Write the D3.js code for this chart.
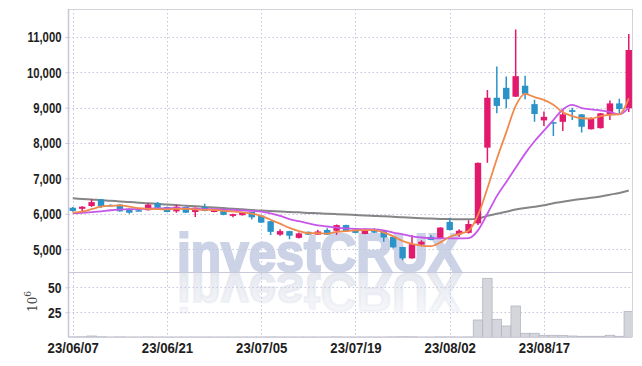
<!DOCTYPE html>
<html>
<head>
<meta charset="utf-8">
<script src="https://cdnjs.cloudflare.com/ajax/libs/d3/7.8.5/d3.min.js"></script>
<style>
  body { margin: 0; background: #fff; }
  svg { display: block; }
</style>
</head>
<body>
<div id="chart"></div>
<script>
// trading days shown on the chart
const dates = [
  "2023-06-07","2023-06-08","2023-06-09","2023-06-12","2023-06-13","2023-06-14","2023-06-15","2023-06-16","2023-06-19","2023-06-20",
  "2023-06-21","2023-06-22","2023-06-23","2023-06-26","2023-06-27","2023-06-28","2023-06-29","2023-06-30","2023-07-03","2023-07-04",
  "2023-07-05","2023-07-06","2023-07-07","2023-07-10","2023-07-11","2023-07-12","2023-07-13","2023-07-14","2023-07-17","2023-07-18",
  "2023-07-19","2023-07-20","2023-07-21","2023-07-24","2023-07-25","2023-07-26","2023-07-27","2023-07-28","2023-07-31","2023-08-01",
  "2023-08-02","2023-08-03","2023-08-04","2023-08-07","2023-08-08","2023-08-09","2023-08-10","2023-08-11","2023-08-14","2023-08-16",
  "2023-08-17","2023-08-18","2023-08-21","2023-08-22","2023-08-23","2023-08-24","2023-08-25","2023-08-28","2023-08-29","2023-08-30"
];
const opens = [
  6170,6140,6220,6410,6250,6260,6140,6100,6100,6300,
  6190,6070,6190,6050,6190,6050,6120,5940,5960,6050,
  5950,5790,5410,5510,5320,5490,5410,5540,5520,5680,
  5540,5430,5510,5520,5350,5060,4740,5130,5350,5300,
  5770,5420,5460,5730,7870,9280,9560,9310,9620,9100,
  8640,8590,8600,8930,8810,8390,8420,8810,9120,8980
];
const highs = [
  6190,6210,6410,6420,6270,6270,6150,6130,6300,6330,
  6200,6250,6200,6180,6280,6110,6130,6000,6040,6060,
  5960,5800,5560,5520,5470,5500,5550,5590,5700,5690,
  5560,5590,5590,5530,5360,5070,5400,5250,5400,5620,
  5870,5560,5820,7450,9500,10160,9880,11210,9900,9220,
  8890,8600,8940,9000,8820,8730,8850,9200,9250,11080
];
const lows = [
  6060,6030,6190,6160,6220,6060,6000,6080,6090,6160,
  6040,6030,6020,5910,6070,6040,5960,5900,5950,5840,
  5740,5400,5380,5280,5300,5400,5400,5400,5410,5500,
  5450,5420,5460,5210,5020,4690,4730,5080,5250,5290,
  5530,5350,5440,5680,7440,8840,8980,9300,9240,8600,
  8480,8200,8340,8650,8300,8380,8410,8650,8840,8880
];
const closes = [
  6080,6200,6330,6220,6230,6070,6030,6090,6260,6170,
  6050,6200,6030,6170,6080,6100,5970,5990,6030,5900,
  5750,5490,5510,5380,5445,5410,5500,5410,5680,5510,
  5460,5540,5470,5330,5050,4740,5140,5210,5260,5610,
  5540,5520,5710,7440,9280,9050,9240,9890,9390,8820,
  8740,8550,8810,8880,8460,8680,8840,9120,8960,10630
];
// volume in millions of shares
const volumes = [
  0.4,0.5,1.3,0.5,0.3,0.4,0.3,0.3,0.4,0.3,
  0.3,0.3,0.3,0.3,0.3,0.3,0.3,0.3,0.3,0.3,
  0.3,0.4,0.3,0.3,0.3,0.3,0.3,0.3,0.4,0.3,
  0.3,0.3,0.3,0.3,0.4,0.5,0.5,0.3,0.3,0.4,
  0.4,0.3,0.4,17.3,59,18,11.3,31.3,4,4,
  2,2,1.7,1.3,1,1,1,2,1,25.7
];
// moving averages
const ma5 = [
  6030,6060,6130,6200,6225,6235,6200,6160,6140,6130,
  6125,6140,6140,6125,6110,6110,6080,6065,6040,6005,
  5940,5830,5720,5600,5510,5450,5450,5440,5490,5510,
  5530,5540,5540,5470,5370,5230,5150,5100,5085,5190,
  5350,5430,5520,5960,6720,7550,8300,9050,9390,9300,
  9220,9080,8870,8760,8700,8690,8760,8800,8815,9260
];
const ma10 = [
  6010,6025,6045,6070,6100,6120,6130,6135,6145,6150,
  6155,6160,6150,6140,6130,6128,6120,6110,6095,6080,
  6060,6010,5940,5850,5790,5730,5670,5640,5610,5585,
  5570,5565,5560,5530,5470,5420,5360,5330,5310,5305,
  5305,5305,5310,5530,6000,6500,6900,7300,7700,8050,
  8350,8650,8950,9080,8990,8950,8920,8880,8810,9000
];
const maLong = [
  6440,6420,6405,6385,6370,6350,6335,6315,6300,6280,
  6265,6245,6230,6210,6195,6175,6160,6140,6125,6105,
  6090,6075,6065,6050,6040,6025,6015,6000,5990,5980,
  5965,5950,5940,5930,5915,5900,5890,5875,5865,5855,
  5850,5845,5845,5870,5940,6000,6060,6120,6165,6200,
  6240,6300,6340,6380,6420,6450,6490,6540,6590,6660
];
const priceTicks = [5000, 6000, 7000, 8000, 9000, 10000, 11000];
const volumeTicks = [25, 50];
const dateTicks = ["2023-06-07","2023-06-21","2023-07-05","2023-07-19","2023-08-02","2023-08-17"];

const W = 642, H = 366;
const pLeft = 68.5, pRight = 632, pTop = 9, pSplit = 272, pBottom = 337.3;
const upColor = "#e2196c", downColor = "#2b93c7";
const gridColor = "#c3c6dc";
const labelFont = "'Liberation Sans', Arial, sans-serif";

const svg = d3.select("#chart").append("svg")
  .attr("width", W).attr("height", H);

const x = d3.scalePoint().domain(dates).range([pLeft, 633]).padding(0.45);
const step = x.step();
const y = d3.scaleLinear().domain([4354, 11789]).range([pSplit, pTop]);
const yv = d3.scaleLinear().domain([0, 65]).range([pBottom, pSplit + 0.3]);

const defs = svg.append("defs");
// clip for the price panel and the volume panel
defs.append("clipPath").attr("id", "clipMain")
  .append("rect").attr("x", pLeft).attr("y", pTop).attr("width", pRight - pLeft).attr("height", pSplit - pTop);
defs.append("clipPath").attr("id", "clipVol")
  .append("rect").attr("x", pLeft).attr("y", pSplit).attr("width", pRight - pLeft).attr("height", pBottom - pSplit);

// watermark + reflection
const grad = defs.append("linearGradient").attr("id", "fade")
  .attr("x1", 0).attr("y1", 0).attr("x2", 0).attr("y2", 1);
grad.append("stop").attr("offset", "0%").attr("stop-color", "#e2e5ee").attr("stop-opacity", 0.15);
grad.append("stop").attr("offset", "100%").attr("stop-color", "#e2e5ee").attr("stop-opacity", 1);

const wm = svg.append("g")
  .attr("font-family", "'Liberation Sans', Arial, sans-serif")
  .attr("font-weight", "bold").attr("font-size", 53);
wm.append("text")
  .attr("x", 177).attr("y", 271)
  .attr("textLength", 284).attr("lengthAdjust", "spacingAndGlyphs")
  .attr("fill", "#ccd3e6").attr("stroke", "#ccd3e6").attr("stroke-width", 2.2)
  .text("investCRUX");
wm.append("text")
  .attr("x", 177).attr("y", 271)
  .attr("transform", "translate(0,545) scale(1,-1)")
  .attr("textLength", 284).attr("lengthAdjust", "spacingAndGlyphs")
  .attr("fill", "url(#fade)").attr("stroke", "url(#fade)").attr("stroke-width", 2.2)
  .text("investCRUX");

// grid lines
const grid = svg.append("g").attr("stroke", gridColor).attr("stroke-dasharray", "1.5,2.5");
grid.selectAll(".hg").data(priceTicks).join("line")
  .attr("x1", pLeft).attr("x2", pRight)
  .attr("y1", d => Math.round(y(d)) + 0.5).attr("y2", d => Math.round(y(d)) + 0.5);
grid.selectAll(".vg").data(volumeTicks).join("line")
  .attr("x1", pLeft).attr("x2", pRight)
  .attr("y1", d => Math.round(yv(d)) + 0.5).attr("y2", d => Math.round(yv(d)) + 0.5);
grid.selectAll(".xg").data(dateTicks).join("line")
  .attr("x1", d => Math.round(x(d)) + 0.5).attr("x2", d => Math.round(x(d)) + 0.5)
  .attr("y1", pTop).attr("y2", pBottom);

// volume bars
svg.append("g").attr("clip-path", "url(#clipVol)")
  .selectAll("rect").data(dates).join("rect")
  .attr("x", d => x(d) - step / 2)
  .attr("width", step)
  .attr("y", (d, i) => yv(volumes[i]))
  .attr("height", (d, i) => pBottom - yv(volumes[i]))
  .attr("fill", "#d5d6dc")
  .attr("stroke", "#b4b5bf")
  .attr("stroke-width", 0.8);

// moving averages
const mainG = svg.append("g").attr("clip-path", "url(#clipMain)");
const lineOf = arr => d3.line()
  .x((d, i) => x(dates[i]))
  .y(d => y(d))
  .curve(d3.curveMonotoneX)(arr);

mainG.append("path").attr("d", lineOf(maLong))
  .attr("fill", "none").attr("stroke", "#858588").attr("stroke-width", 2);

// candles
const cg = mainG.append("g");
dates.forEach((d, i) => {
  const up = closes[i] >= opens[i];
  const col = up ? upColor : downColor;
  const cx = x(d);
  cg.append("line")
    .attr("x1", cx).attr("x2", cx)
    .attr("y1", y(highs[i])).attr("y2", y(lows[i]))
    .attr("stroke", col).attr("stroke-width", 1.5);
  const y0 = y(Math.max(opens[i], closes[i]));
  const y1 = y(Math.min(opens[i], closes[i]));
  cg.append("rect")
    .attr("x", cx - 3.2).attr("width", 6.4)
    .attr("y", y0).attr("height", Math.max(1.5, y1 - y0))
    .attr("fill", col);
});

mainG.append("path").attr("d", lineOf(ma10))
  .attr("fill", "none").attr("stroke", "#c856ea").attr("stroke-width", 1.8);
mainG.append("path").attr("d", lineOf(ma5))
  .attr("fill", "none").attr("stroke", "#f08a4c").attr("stroke-width", 1.8);

// frame
const frame = svg.append("g").attr("fill", "none");
frame.append("line").attr("x1", pLeft).attr("x2", pRight).attr("y1", pTop + 0.5).attr("y2", pTop + 0.5)
  .attr("stroke", "#d2d2d8");
frame.append("line").attr("x1", pRight + 0.5).attr("x2", pRight + 0.5).attr("y1", pTop).attr("y2", pBottom)
  .attr("stroke", "#d2d2d8");
frame.append("line").attr("x1", pLeft).attr("x2", pRight).attr("y1", pSplit + 0.5).attr("y2", pSplit + 0.5)
  .attr("stroke", "#c8c9d8");
frame.append("line").attr("x1", pLeft).attr("x2", pRight).attr("y1", pBottom).attr("y2", pBottom)
  .attr("stroke", "#c8c9d8");
frame.append("line").attr("x1", pLeft).attr("x2", pLeft).attr("y1", pTop).attr("y2", pBottom)
  .attr("stroke", "#c6c8d8").attr("stroke-width", 1.5);

// axes: labels squeezed to mimic the condensed face in the reference
function styleAxis(g, squeeze) {
  g.select(".domain").remove();
  g.selectAll(".tick line").attr("stroke", "#c6c8d8");
  g.selectAll(".tick text")
    .attr("font-family", labelFont)
    .attr("font-weight", "bold")
    .attr("font-size", 15.5)
    .attr("fill", "#1e1e1e")
    .each(function () {
      const len = this.getComputedTextLength();
      d3.select(this).attr("textLength", len * squeeze).attr("lengthAdjust", "spacingAndGlyphs");
    });
}

svg.append("g")
  .attr("transform", `translate(${pLeft},0)`)
  .call(d3.axisLeft(y).tickValues(priceTicks).tickFormat(d3.format(",")).tickSize(3).tickPadding(4))
  .call(styleAxis, 0.73);

svg.append("g")
  .attr("transform", `translate(${pLeft},0)`)
  .call(d3.axisLeft(yv).tickValues(volumeTicks).tickSize(3).tickPadding(4))
  .call(styleAxis, 0.78);

const fmt = d3.timeFormat("%y/%m/%d");
const parse = d3.timeParse("%Y-%m-%d");
svg.append("g")
  .attr("transform", `translate(0,${pBottom})`)
  .call(d3.axisBottom(x).tickValues(dateTicks).tickFormat(d => fmt(parse(d))).tickSize(0).tickPadding(4.5))
  .call(styleAxis, 0.85);

// volume unit label
const unit = svg.append("text")
  .attr("transform", "translate(37,312) rotate(-90)")
  .attr("font-family", "'DejaVu Serif', 'Liberation Serif', serif")
  .attr("font-size", 12)
  .attr("fill", "#444");
unit.append("tspan").text("10");
unit.append("tspan").attr("dy", -6).attr("font-size", 9).text("6");
</script>
</body>
</html>
